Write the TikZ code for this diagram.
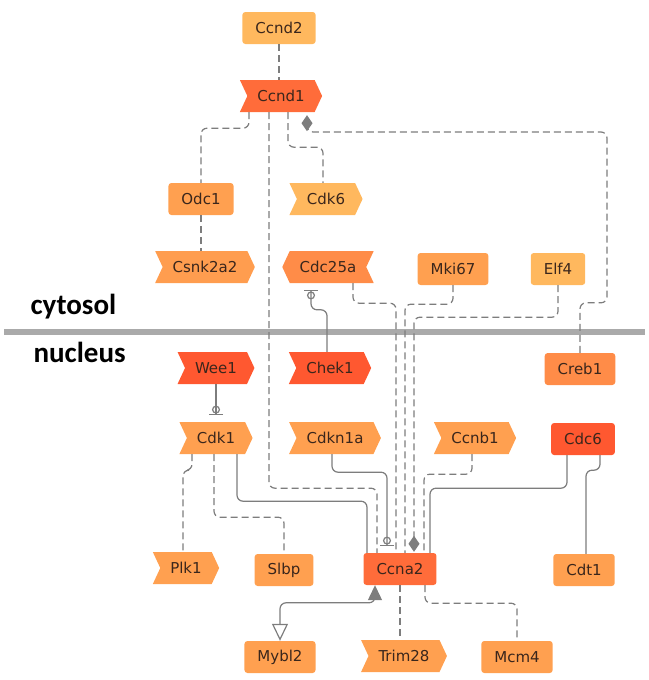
\documentclass[tikz,border=0pt]{standalone}
\usepackage{fontspec}
\setmainfont{DejaVu Sans}
\newfontfamily\regionfont{Carlito}
\usetikzlibrary{shapes.symbols, arrows.meta}
\definecolor{lightorange}{RGB}{255,184,94}
\definecolor{midorange}{RGB}{255,160,80}
\definecolor{deeporange}{RGB}{255,140,72}
\definecolor{redorange}{RGB}{255,108,58}
\definecolor{hotorange}{RGB}{255,88,48}
\definecolor{genetext}{RGB}{58,38,28}
\definecolor{edgegray}{RGB}{125,125,125}
\definecolor{sepgray}{RGB}{170,170,170}

\begin{document}
\begin{tikzpicture}[x=1pt, y=-1pt,
    gene/.style={rounded corners=3pt, minimum height=32pt, inner xsep=13pt, inner ysep=0pt,
        font=\fontsize{15}{17}\selectfont, text=genetext},
    geneflag/.style={gene, rounded corners=0pt, shape=signal, signal to=east, signal from=west,
        signal pointer angle=130, inner xsep=10pt},
    geneflagleft/.style={geneflag, signal to=west, signal from=east},
    dashline/.style={draw=edgegray, line width=1.2pt, dash pattern=on 7pt off 4pt, rounded corners=6pt},
    solidline/.style={draw=edgegray, line width=1.2pt, rounded corners=6pt},
    inhibit/.style={-{Circle[open, length=8pt, width=8pt] Bar[width=14pt]}, shorten >=7pt},
    bindtip/.style={-{Diamond[length=16pt, width=11pt]}},
    regionlabel/.style={anchor=west, font=\regionfont\bfseries\fontsize{29}{32}\selectfont}]
    \useasboundingbox (0,0) rectangle (648,680);
    % Compartments
    \draw[line width=6pt, sepgray] (4,332) -- (645,332);
    \node[regionlabel] (cytosol) at (27,307) {cytosol};
    \node[regionlabel] (nucleus) at (30,352) {nucleus};
    % Genes, cytosol
    \node[gene, fill=lightorange] (ccnd2) at (279,28) {Ccnd2};
    \node[geneflag, fill=redorange] (ccnd1) at (281,96) {Ccnd1};
    \node[gene, fill=midorange] (odc1) at (201,199) {Odc1};
    \node[geneflag, fill=lightorange] (cdk6) at (326,199) {Cdk6};
    \node[geneflag, fill=midorange!85!deeporange] (csnk2a2) at (205,267) {Csnk2a2};
    \node[geneflagleft, fill=deeporange] (cdc25a) at (328,267) {Cdc25a};
    \node[gene, fill=midorange] (mki67) at (453,269) {Mki67};
    \node[gene, fill=lightorange] (elf4) at (558,269) {Elf4};
    % Genes, nucleus
    \node[geneflag, fill=hotorange] (wee1) at (216,368) {Wee1};
    \node[geneflag, fill=hotorange] (chek1) at (330,368) {Chek1};
    \node[gene, fill=deeporange] (creb1) at (580,369) {Creb1};
    \node[geneflag, fill=midorange] (cdk1) at (216,438) {Cdk1};
    \node[geneflag, fill=midorange] (cdkn1a) at (335,438) {Cdkn1a};
    \node[geneflag, fill=midorange] (ccnb1) at (475,438) {Ccnb1};
    \node[gene, fill=hotorange] (cdc6) at (583,439) {Cdc6};
    \node[geneflag, fill=midorange] (plk1) at (186,568) {Plk1};
    \node[gene, fill=midorange] (slbp) at (284,570) {Slbp};
    \node[gene, fill=redorange] (ccna2) at (400,569) {Ccna2};
    \node[gene, fill=midorange] (cdt1) at (584,570) {Cdt1};
    \node[gene, fill=midorange] (mybl2) at (280,657) {Mybl2};
    \node[geneflag, fill=midorange] (trim28) at (404,656) {Trim28};
    \node[gene, fill=midorange] (mcm4) at (517,657) {Mcm4};
    % Links, cytosol
    \draw[dashline] (ccnd2.south) -- (ccnd2.south |- ccnd1.north);
    \draw[dashline] ([xshift=-32pt]ccnd1.south) -- ++(0,16) -| (odc1.north);
    \draw[dashline] ([xshift=7pt]ccnd1.south) -- ++(0,35) -| ([xshift=-3pt]cdk6.north);
    \draw[dashline] (odc1.south) -- (odc1.south |- csnk2a2.north);
    \draw[dashline, bindtip, shorten >=3pt] (creb1.north) -- ++(0,-50) -| (607,132) -| ([xshift=26pt]ccnd1.south);
    \draw[solidline, inhibit] ([xshift=-3pt]chek1.north) -- ++(0,-42) -| ([xshift=-17pt]cdc25a.south);
    % Links, nucleus
    \draw[solidline, inhibit] (wee1.south) -- (wee1.south |- cdk1.north);
    \draw[dashline] ([xshift=-24pt]cdk1.south) -- ++(0,16) -| ([xshift=-3pt]plk1.north);
    \draw[dashline] ([xshift=-2pt]cdk1.south) -- ++(0,63) -| (slbp.north);
    \draw[solidline] ([xshift=21pt]cdk1.south) -- ++(0,47) -| ([xshift=-33pt]ccna2.north);
    \draw[dashline] ([xshift=-12pt]ccnd1.south) -- ++(0,376) -| ([xshift=-23pt]ccna2.north);
    \draw[solidline, inhibit] ([xshift=-3pt]cdkn1a.south) -- ++(0,18) -| ([xshift=-13pt]ccna2.north);
    \draw[dashline] ([xshift=25pt]cdc25a.south) -- ++(0,20) -| ([xshift=-4pt]ccna2.north);
    \draw[dashline] (mki67.south) -- ++(0,19) -| ([xshift=5pt]ccna2.north);
    \draw[dashline, bindtip, shorten >=1pt] (elf4.south) -- ++(0,32) -| ([xshift=14pt]ccna2.north);
    \draw[dashline] ([xshift=-3pt]ccnb1.south) -- ++(0,20) -| ([xshift=24pt]ccna2.north);
    \draw[solidline] ([xshift=-16pt]cdc6.south) -- ++(0,33) -| ([xshift=30pt]ccna2.north);
    \draw[solidline] ([xshift=17pt]cdc6.south) -- ++(0,15) -| ([xshift=2pt]cdt1.north);
    \draw[dashline] (ccna2.south) -- (ccna2.south |- trim28.north);
    \draw[dashline] ([xshift=25pt]ccna2.south) -- ++(0,18) -| (mcm4.north);
    \draw[solidline, {Triangle[open, length=17pt, width=16pt]}-{Triangle[length=15pt, width=14pt]}]
        (mybl2.north) -- ++(0,-38) -| ([xshift=-25pt]ccna2.south);
\end{tikzpicture}
\end{document}
